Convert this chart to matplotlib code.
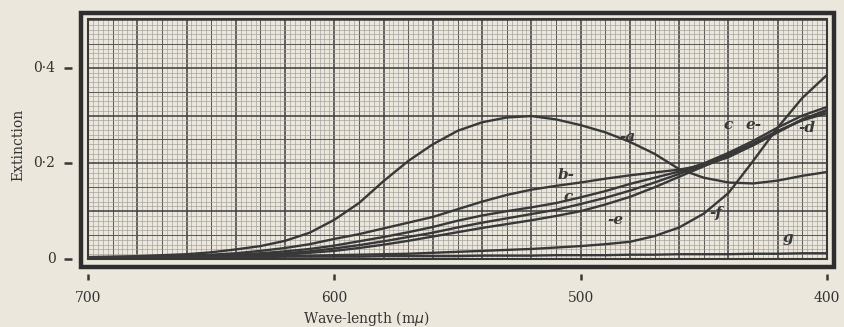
import matplotlib.pyplot as plt
import numpy as np
from matplotlib.patches import Rectangle
from matplotlib.transforms import blended_transform_factory

# wave-length (m mu) and extinction of each curve
wl = [700, 690, 680, 670, 660, 650, 640, 630, 620, 610, 600, 590, 580, 570, 560, 550,
      540, 530, 520, 510, 500, 490, 480, 470, 460, 450, 440, 430, 420, 410, 400]

ext_a = [.004, .005, .006, .008, .010, .014, .020, .027, .038, .055, .082, .117, .163, .205, .240, .268,
         .286, .296, .299, .292, .280, .265, .245, .220, .188, .170, .160, .158, .164, .174, .182]
ext_b = [.002, .003, .004, .005, .007, .009, .012, .017, .023, .031, .042, .052, .064, .076, .088, .104,
         .120, .134, .145, .153, .160, .168, .175, .181, .187, .196, .213, .238, .266, .292, .310]
ext_c = [.002, .002, .003, .004, .005, .007, .009, .012, .016, .021, .028, .037, .046, .056, .067, .080,
         .091, .100, .108, .117, .129, .142, .157, .170, .183, .200, .222, .247, .275, .300, .318]
ext_d = [.001, .002, .002, .003, .004, .005, .007, .009, .012, .016, .022, .029, .037, .046, .055, .066,
         .076, .085, .094, .103, .115, .128, .143, .160, .178, .197, .218, .242, .268, .290, .305]
ext_e = [.001, .001, .002, .002, .003, .004, .005, .007, .009, .013, .017, .023, .030, .038, .047, .056,
         .065, .073, .081, .090, .100, .114, .130, .150, .172, .194, .215, .238, .265, .292, .312]
ext_f = [.000, .001, .001, .002, .002, .003, .004, .005, .006, .007, .008, .009, .010, .011, .013, .015,
         .017, .019, .021, .024, .027, .031, .036, .048, .066, .095, .138, .205, .275, .337, .385]
ext_g = [.003, .003, .003, .003, .004, .004, .004, .004, .005, .005, .005, .005, .006, .006, .006, .006,
         .007, .007, .007, .008, .008, .008, .009, .009, .010, .010, .010, .011, .011, .012, .012]

curves = [ext_a, ext_b, ext_c, ext_d, ext_e, ext_f, ext_g]

# curve labels: text, wave-length, extinction
labels = [("-a", 481, 0.255), ("b-", 506, 0.176), ("c", 505, 0.130), ("-e", 486, 0.082),
          ("-f", 445, 0.096), ("g", 416, 0.044), ("c", 440, 0.280), ("e-", 430, 0.280),
          ("-d", 408, 0.274)]

xticks = [700, 600, 500, 400]
yticks = [0, 0.2, 0.4]
ytick_labels = ["0", "0·2", "0·4"]

paper = "#ebe7dc"
ink = "#383838"

fig = plt.figure(figsize=(8.44, 3.27), dpi=100, facecolor=paper)
ax = fig.add_axes([88 / 844, 68 / 327, 739 / 844, 240 / 327])
ax.set_facecolor(paper)
ax.set_xlim(700, 400)
ax.set_ylim(0, 0.502)

# squared paper: fine, medium and heavy rulings
for x in np.arange(400, 701, 2):
    if x % 20 == 0:
        lw, c = 1.1, "#3c3c3c"
    elif x % 10 == 0:
        lw, c = 0.75, "#5c5c5a"
    else:
        lw, c = 0.45, "#9d9c96"
    ax.axvline(x, lw=lw, color=c, zorder=1)
for k in range(0, 51):
    y = k / 100
    if k % 10 == 0:
        lw, c = 1.1, "#3c3c3c"
    elif k % 5 == 0:
        lw, c = 0.75, "#5c5c5a"
    else:
        lw, c = 0.45, "#9d9c96"
    ax.axhline(y, lw=lw, color=c, zorder=1)

for ys in curves:
    ax.plot(wl, ys, color=ink, lw=1.7, zorder=3, solid_capstyle="round")

for txt, x, y in labels:
    ax.text(x, y, txt, fontsize=11, fontweight="bold", fontstyle="italic",
            family="DejaVu Serif", color=ink, ha="center", va="center", zorder=4)

for s in ax.spines.values():
    s.set_visible(False)
ax.set_xticks([])
ax.set_yticks([])

# heavy double frame
ax.add_patch(Rectangle((0, 0), 1, 1, transform=ax.transAxes, fill=False,
                       lw=1.5, edgecolor=ink, zorder=5, clip_on=False))
fig.patches.append(Rectangle((81 / 844, 60 / 327), 753 / 844, 254 / 327,
                             transform=fig.transFigure, fill=False, lw=3.2,
                             edgecolor="#2e2e2e", zorder=6))

# little tick dashes outside the frame
tx = blended_transform_factory(ax.transAxes, ax.transData)
ty = blended_transform_factory(ax.transData, ax.transAxes)
for y, lab in zip(yticks, ytick_labels):
    ax.plot([-0.027], [y], marker="_", ms=6, mew=1.8, color=ink, transform=tx, clip_on=False)
    ax.text(-0.044, y, lab, transform=tx, ha="right", va="center", fontsize=10,
            family="DejaVu Serif", color="#333333")
for x in xticks:
    ax.plot([x], [-0.075], marker="|", ms=5, mew=1.8, color=ink, transform=ty, clip_on=False)
    ax.text(x, -0.135, str(x), transform=ty, ha="center", va="top", fontsize=10,
            family="DejaVu Serif", color="#333333")

fig.text(18 / 844, 1 - 145 / 327, "Extinction", rotation=90, ha="center", va="center",
         fontsize=10, family="DejaVu Serif", color="#333333")
fig.text(366 / 844, 1 - 319 / 327, "Wave-length (m$\\mu$)", ha="center", va="center",
         fontsize=10, family="DejaVu Serif", color="#333333")

fig.savefig("out.png", dpi=100, facecolor=paper)
